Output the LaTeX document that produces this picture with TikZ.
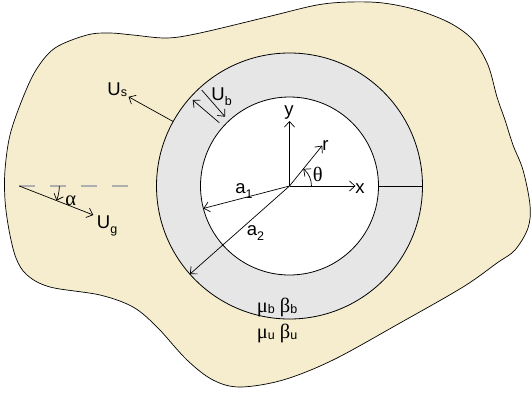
\documentclass[tikz,border=0pt]{standalone}
\usepackage{fontspec}
\setmainfont{Liberation Sans}
\newfontfamily\grk{Liberation Serif}
\usetikzlibrary{arrows.meta,calc}
\definecolor{beige}{RGB}{245,237,206}
\definecolor{ringgray}{RGB}{230,230,230}
\definecolor{dashgray}{RGB}{175,175,175}
\newcommand\sbs[2][-5pt]{\raisebox{#1}{\fontsize{12.5}{12.5}\selectfont #2}}
\newcommand\gk[1]{{\grk\fontsize{20.5}{20.5}\selectfont #1}}
\begin{document}
\begin{tikzpicture}[x=1pt,y=-1pt,
  line width=0.8pt,
  arr/.style={-{Straight Barb[length=5.5pt,width=10pt]}, line width=0.7pt},
  lbl/.style={font=\fontsize{18.5}{18.5}\selectfont, inner sep=0pt}]
\useasboundingbox (0,0) rectangle (531,392);
% surrounding medium
\draw[fill=beige, line width=0.7pt] plot[smooth cycle, tension=0.55] coordinates {
 (87,35) (110,33) (133,35) (167,38) (200,33) (267,17) (317,5) (350,2) (383,3)
 (417,10) (450,23) (473,40) (488,65) (497,97) (505,120) (513,145) (523,170)
 (530,205) (528,228) (515,250) (497,263) (463,287) (400,323) (333,360)
 (283,380) (240,387) (213,380) (187,360) (157,327) (133,307) (100,295)
 (50,287) (27,275) (16,258) (9,230) (5,200) (5,170) (10,135) (22,100)
 (36,70) (55,48)};
% rings
\coordinate (C) at (289.5,186);
\filldraw[fill=ringgray, draw=black] (C) circle[radius=133];
\filldraw[fill=white, draw=black] (C) circle[radius=89];
\coordinate (i0) at ($(C)+(0:89)$);
\coordinate (o0) at ($(C)+(0:133)$);
\draw (i0) -- (o0);
% axes
\coordinate (X) at ($(C)+(0:66)$);
\coordinate (Y) at ($(C)+(-90:65)$);
\coordinate (R) at ($(C)+(-51:52)$);
\draw[arr] (C) -- (X);
\draw[arr] (C) -- (Y);
\draw[arr] (C) -- (R);
\draw[arr] ($(C)+(0:22)$) arc[start angle=0, end angle=-51, radius=22];
\node[lbl, anchor=base west] (xl) at (355,193.3) {x};
\node[lbl, anchor=base] (yl) at (289,115) {y};
\node[lbl, anchor=base west] (rl) at (322,150) {r};
\node[lbl, anchor=base west] (tl) at (312.5,181.7) {\gk{θ}};
% radii
\coordinate (A1) at ($(C)+(165.4:89)$);
\coordinate (A2) at ($(C)+(138.5:133)$);
\draw[arr] (C) -- (A1);
\draw[arr] (C) -- (A2);
\node[lbl, anchor=base west] (a1l) at (235,193.3) {a\sbs{1}};
\node[lbl, anchor=base west] (a2l) at (246.5,235) {a\sbs{2}};
% U_s
\coordinate (S0) at ($(C)+(-151:133)$);
\coordinate (S1) at ($(C)+(-151:184)$);
\draw[arr] (S0) -- (S1);
\node[lbl, anchor=base west] (usl) at (107,95) {U\sbs[-1.5pt]{s}};
% U_b
\coordinate (B1s) at (219.3,122.7);
\coordinate (B1e) at (192.7,100);
\coordinate (B2s) at (201.7,90);
\coordinate (B2e) at (225,116.7);
\draw[arr] (B1s) -- (B1e);
\draw[arr] (B2s) -- (B2e);
\node[lbl, anchor=base west] (ubl) at (211,100.5) {U\sbs{b}};
% U_g and alpha
\coordinate (G0) at (19.3,186);
\coordinate (G1) at (93.3,215);
\coordinate (D1) at (131,186);
\draw[dashgray, line width=1.2pt, dash pattern=on 16pt off 15pt] (G0) -- (D1);
\draw[arr] (G0) -- (G1);
\draw[arr] ($(G0)+(0:40)$) arc[start angle=0, end angle=21.4, radius=40];
\node[lbl, anchor=base west] (al) at (65,205) {\gk{α}};
\node[lbl, anchor=base west] (ugl) at (96.5,228.3) {U\sbs{g}};
% material constants
\node[lbl, anchor=base west] (mb) at (256.5,312) {\gk{μ}\sbs[-1.5pt]{b} \gk{β}\sbs[-1.5pt]{b}};
\node[lbl, anchor=base west] (mu) at (256.5,338) {\gk{μ}\sbs[-1.5pt]{u} \gk{β}\sbs[-1.5pt]{u}};
\end{tikzpicture}
\end{document}
